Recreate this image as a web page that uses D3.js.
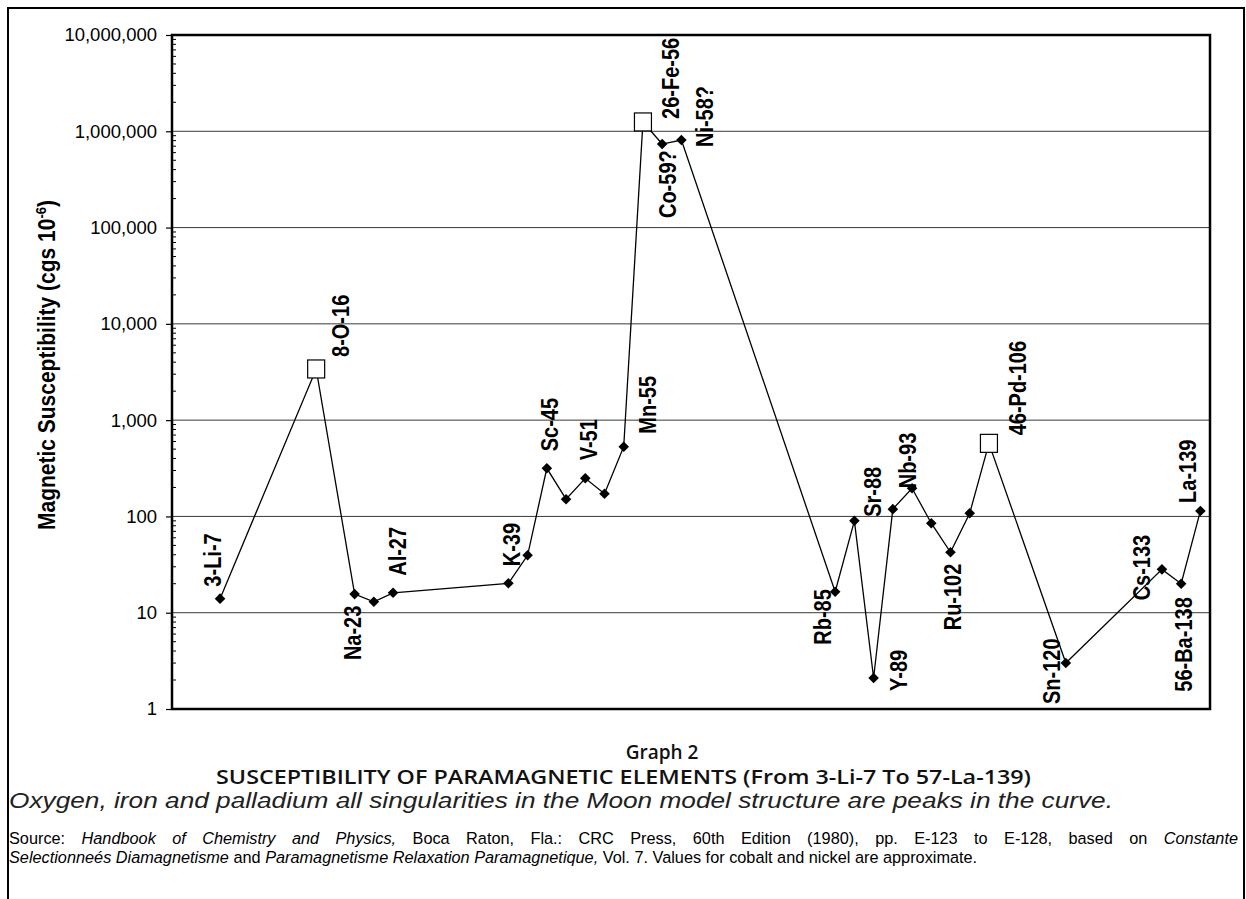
<html>
<head>
<meta charset="utf-8">
</head>
<body style="margin:0;background:#fff">
<svg id="mainSvg" width="1246" height="899"></svg>
<script src="https://d3js.org/d3.v7.min.js"></script>
<script>
// elements in plotting order, their category slot on the x axis (Excel-like category axis)
const elements = ['Li','O','Na','Mg','Al','K','Ca','Sc','Ti','V','Cr','Mn','Fe','Co','Ni',
   'Rb','Sr','Y','Zr','Nb','Mo','Ru','Rh','Pd','Sn','Cs','Ba','La']
const slots = [3,8,10,11,12,18,19,20,21,22,23,24,25,26,27,35,36,37,38,39,40,41,42,43,47,52,53,54]
// magnetic susceptibility, cgs 10^-6
const values = [14,3400,15.6,13,16.1,20.2,39.5,316,151,249,172,530,1250000,737000,811000,
   16.5,90,2.1,119,196,85,42.4,108,574,3.0,28.2,20,114]
const pointLabels = ['3-Li-7','8-O-16','Na-23',null,'Al-27','K-39',null,'Sc-45',null,'V-51',null,'Mn-55',
   '26-Fe-56','Co-59?','Ni-58?','Rb-85','Sr-88','Y-89',null,'Nb-93',null,'Ru-102',null,'46-Pd-106',
   'Sn-120','Cs-133','56-Ba-138','La-139']
const peaks = ['O','Fe','Pd']
const yTicks = [1,10,100,1000,10000,100000,1000000,10000000]

// where each label sits relative to its point: [dx to baseline, dy to text start]
const labelShift = {
   Li:[1,-12], O:[33,-12], Na:[6,66], Al:[13,-17], K:[12,-17], Sc:[11,-17], V:[12,-18],
   Mn:[32,-13], Fe:[36,-3], Co:[14,74], Ni:[32,7], Rb:[-4,53], Sr:[27,-4], Y:[33,13],
   Nb:[4,0], Ru:[10,78], Pd:[37,-8], Sn:[-6,41], Cs:[-12,31], Ba:[11,108], La:[-4,-8]
}

const svg = d3.select('#mainSvg')
const plot = {left: 172, right: 1210, top: 35, bottom: 709}
const font = 'Liberation Sans, Arial, sans-serif'

const xScale = d3.scaleLinear().domain([0.5, 54.5]).range([plot.left, plot.right])
const yScale = d3.scaleLog().domain([1, 1e7]).range([plot.bottom, plot.top])

const points = elements.map((el, i) => ({el: el, slot: slots[i], v: values[i], label: pointLabels[i]}))

// outer page frame (open at the bottom)
svg.append('path').attr('d', 'M8,899 L8,8 L1244,8 L1244,899')
   .attr('fill', 'none').attr('stroke', '#000').attr('stroke-width', 2)

// grid lines at each decade
svg.append('g').selectAll('line').data(yTicks.slice(1, -1)).enter().append('line')
   .attr('x1', plot.left).attr('x2', plot.right)
   .attr('y1', d => yScale(d)).attr('y2', d => yScale(d))
   .attr('stroke', '#3a3a3a').attr('stroke-width', 1)

// minor ticks inside the left axis
const minor = []
yTicks.slice(0, -1).forEach(t => { for (let k = 2; k < 10; k++) minor.push(t * k) })
svg.append('g').selectAll('line').data(minor).enter().append('line')
   .attr('x1', plot.left).attr('x2', plot.left + 4)
   .attr('y1', d => yScale(d)).attr('y2', d => yScale(d))
   .attr('stroke', '#000').attr('stroke-width', 1)

// y axis
const yAxis = svg.append('g').attr('transform', `translate(${plot.left},0)`)
   .call(d3.axisLeft(yScale).tickValues(yTicks).tickFormat(d3.format(',')).tickSize(6).tickPadding(9))
yAxis.select('.domain').remove()
yAxis.selectAll('.tick line').attr('stroke', '#000').attr('stroke-width', 1.2)
yAxis.selectAll('.tick text').attr('font-family', font)
   .attr('font-size', '18.5px').attr('fill', '#000')

// plot frame
svg.append('rect').attr('x', plot.left).attr('y', plot.top)
   .attr('width', plot.right - plot.left).attr('height', plot.bottom - plot.top)
   .attr('fill', 'none').attr('stroke', '#000').attr('stroke-width', 2.5)

// y axis title (glyphs a little widened, like the scan)
const yTitle = svg.append('text').attr('transform', 'translate(55,530) rotate(-90) scale(1,1.12)')
   .attr('font-family', font).attr('font-weight', 'bold')
   .attr('font-size', '21px').attr('fill', '#000')
yTitle.append('tspan').text('Magnetic Susceptibility (cgs 10')
yTitle.append('tspan').attr('font-size', '13px').attr('dy', -8).text('-6')
yTitle.append('tspan').attr('dy', 8).text(')')

// the curve
const line = d3.line().x(d => xScale(d.slot)).y(d => yScale(d.v))
svg.append('path').datum(points).attr('d', line)
   .attr('fill', 'none').attr('stroke', '#000').attr('stroke-width', 1.3)

// diamonds
svg.append('g').selectAll('path').data(points.filter(d => !peaks.includes(d.el))).enter().append('path')
   .attr('d', d3.symbol().type(d3.symbolSquare).size(56))
   .attr('transform', d => `translate(${xScale(d.slot)},${yScale(d.v)}) rotate(45)`)
   .attr('fill', '#000')

// open squares for the peaks
svg.append('g').selectAll('rect').data(points.filter(d => peaks.includes(d.el))).enter().append('rect')
   .attr('x', d => xScale(d.slot) - 8.5).attr('y', d => yScale(d.v) - 9)
   .attr('width', 17).attr('height', 18)
   .attr('fill', '#fff').attr('stroke', '#000').attr('stroke-width', 1.2)

// point labels, rotated
svg.append('g').selectAll('text').data(points.filter(d => d.label)).enter().append('text')
   .attr('transform', d => {
      const s = labelShift[d.el]
      return `translate(${xScale(d.slot) + s[0]},${yScale(d.v) + s[1]}) rotate(-90) scale(1,1.15)`
   })
   .attr('font-family', font).attr('font-weight', 'bold')
   .attr('font-size', '20px').attr('fill', '#000')
   .text(d => d.label)

// captions under the chart
svg.append('text').attr('x', 662).attr('y', 759).attr('text-anchor', 'middle')
   .attr('font-family', 'Open Sans, sans-serif').attr('font-weight', 600)
   .attr('font-size', '19px').attr('fill', '#111').text('Graph 2')
svg.append('text').attr('x', 216).attr('y', 784)
   .attr('textLength', 815).attr('lengthAdjust', 'spacingAndGlyphs')
   .attr('font-family', 'Open Sans, sans-serif').attr('font-weight', 600)
   .attr('font-size', '20px').attr('fill', '#111')
   .text('SUSCEPTIBILITY OF PARAMAGNETIC ELEMENTS (From 3-Li-7 To 57-La-139)')
svg.append('text').attr('x', 9).attr('y', 808)
   .attr('textLength', 1104).attr('lengthAdjust', 'spacingAndGlyphs')
   .attr('font-family', font).attr('font-style', 'italic')
   .attr('font-size', '22px').attr('fill', '#222')
   .text('Oxygen, iron and palladium all singularities in the Moon model structure are peaks in the curve.')

const src1 = svg.append('text').attr('x', 9).attr('y', 844)
   .attr('font-family', font).attr('font-size', '16.3px').attr('fill', '#000')
src1.append('tspan').text('Source: ')
src1.append('tspan').attr('font-style', 'italic').text('Handbook of Chemistry and Physics,')
src1.append('tspan').text(' Boca Raton, Fla.: CRC Press, 60th Edition (1980), pp. E-123 to E-128, based on ')
src1.append('tspan').attr('font-style', 'italic').text('Constante')
// justify the first line by widening the word gaps
const natural = src1.node().getComputedTextLength()
const gaps = src1.text().split(' ').length - 1
src1.attr('word-spacing', Math.max(0, (1229 - natural) / gaps))

const src2 = svg.append('text').attr('x', 9).attr('y', 863)
   .attr('font-family', font).attr('font-size', '16.3px').attr('fill', '#000')
src2.append('tspan').attr('font-style', 'italic').text('Selectionneés Diamagnetisme')
src2.append('tspan').text(' and ')
src2.append('tspan').attr('font-style', 'italic').text('Paramagnetisme Relaxation Paramagnetique,')
src2.append('tspan').text(' Vol. 7. Values for cobalt and nickel are approximate.')
</script>
</body>
</html>
